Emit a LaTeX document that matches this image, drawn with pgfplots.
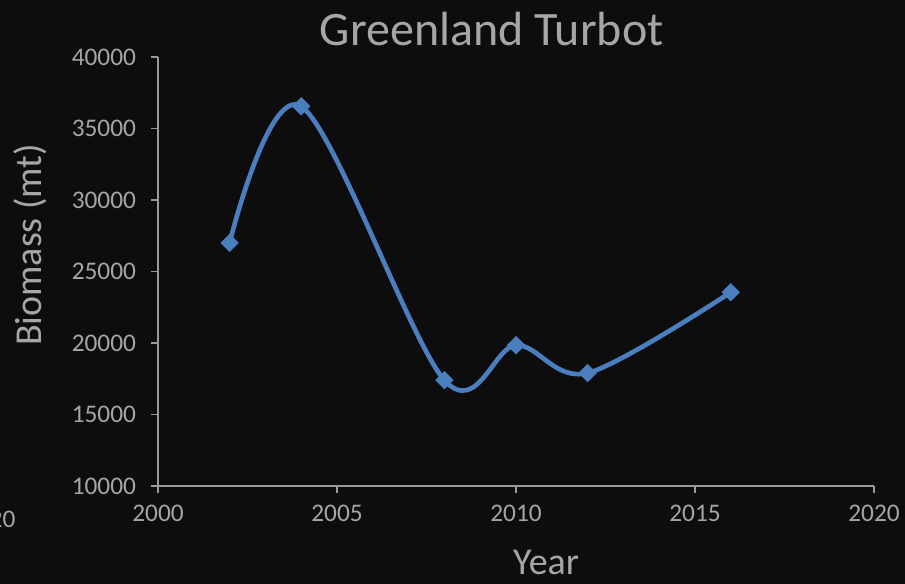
\documentclass[border=0pt]{standalone}
\usepackage{pgfplots}
\pgfplotsset{compat=1.18}
\usepackage{fontspec}
\setmainfont{Carlito}
\definecolor{bg}{HTML}{0D0D0D}
\definecolor{txt}{HTML}{A6A6A6}
\definecolor{axc}{HTML}{9A9A9A}
\definecolor{ln}{HTML}{4A7EBF}
\begin{document}
\begin{tikzpicture}[x=0.75pt,y=0.75pt]
\fill[bg] (-158,-98) rectangle (747,486);
\begin{axis}[
  scale only axis,
  width=537pt, height=321.75pt,
  at={(0,0)}, anchor=south west,
  xmin=2000, xmax=2020, ymin=10000, ymax=40000,
  xtick={2000,2005,...,2020}, ytick={10000,15000,...,40000},
  scaled ticks=false,
  axis x line*=bottom, axis y line*=left,
  axis line style={axc, line width=1pt},
  major tick style={axc, line width=1pt},
  major tick length=5pt, tick align=outside,
  /pgf/number format/assume math mode=true,
  /pgf/number format/1000 sep={},
  ticklabel style={font=\fontsize{19}{19}\selectfont, text=txt},
  yticklabel style={xshift=-8pt},
  xticklabel style={yshift=-6pt},
  xlabel={Year}, ylabel={Biomass (mt)},
  label style={font=\fontsize{28.5}{28.5}\selectfont, text=txt},
  xlabel style={at={(axis description cs:0.542,-0.178)}, anchor=center},
  ylabel style={at={(axis description cs:-0.179,0.562)}, anchor=center, rotate=0},
  title={Greenland Turbot},
  title style={at={(axis description cs:0.466,1.046)}, anchor=center, font=\fontsize{36}{36}\selectfont, text=txt},
  clip=false,
]
\addplot[ln, line width=3.5pt, smooth, tension=0.55, mark=square*, mark size=4.6pt,
  mark options={rotate=45, fill=ln, draw=ln, line width=0.5pt, solid}]
  coordinates {(2002,27000) (2004,36550) (2008,17400) (2010,19850) (2012,17900) (2016,23550)};
\node[font=\fontsize{19}{19}\selectfont, text=txt, anchor=center] at (axis cs:1995.3,10000) [yshift=-25pt] {2020};
\end{axis}
\pgfresetboundingbox
\path[use as bounding box] (-158,-98) rectangle (747,486);
\end{tikzpicture}
\end{document}
